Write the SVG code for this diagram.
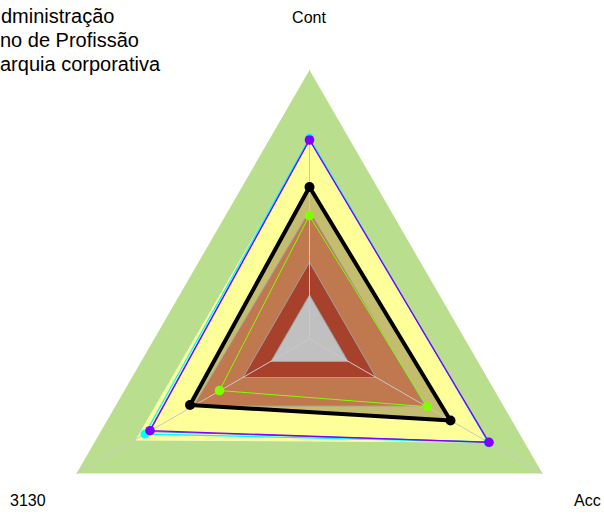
<svg xmlns="http://www.w3.org/2000/svg" width="604" height="514" viewBox="0 0 604 514">
<style>
text{font-family:"Liberation Sans",Arial,sans-serif;fill:#000}
.lab{font-size:16px}
.leg{font-size:20px}
.axis{stroke:#C8C8C8;stroke-width:1;fill:none}
.ring{stroke:#A0A0A0;stroke-width:1}
.ser{fill:none;stroke-linejoin:round}
</style>
<rect width="604" height="514" fill="#FFFFFF"/>
<g id="fills">
<polygon id="green" points="309.5,70 76.5,473.5 542.5,473.5" fill="#B9DF8E"/>
<polygon id="yellow" points="309.5,141 136,440 489,442" fill="#FFFF99" stroke="#F4FFB8" stroke-width="1"/>
<polygon id="olive" points="309.5,187 190,405 450.5,420.5" fill="#C4BC6E"/>
<polygon id="brown" class="ring" points="309.5,211 193.5,406 425.5,406" fill="#C0784E"/>
<polygon id="darkred" class="ring" points="309.5,262 243,377.5 376,377.5" fill="#A7412C"/>
<polygon id="grey" class="ring" points="309.5,295 271,361.5 348,361.5" fill="#C0C0C0"/>
</g>
<g id="axes">
<line class="axis" x1="309.5" y1="339" x2="309.5" y2="70"/>
<line class="axis" x1="309.5" y1="339" x2="76.5" y2="473.5"/>
<line class="axis" x1="309.5" y1="339" x2="542.5" y2="473.5"/>
</g>
<g id="series-cyan">
<polygon class="ser" points="309.5,138 145,434 488,442" stroke="#00FFFF" stroke-width="1.3"/>
<circle cx="309.5" cy="138" r="4.5" fill="#00FFFF"/>
<circle cx="145" cy="434" r="4.5" fill="#00FFFF"/>
<circle cx="488" cy="442" r="4.5" fill="#00FFFF"/>
</g>
<g id="series-blue">
<polygon class="ser" points="309.5,139.5 149,431.5 488.5,442" stroke="#4060FF" stroke-width="1"/>
</g>
<g id="series-purple">
<polygon class="ser" points="309.5,140 150,430.7 489,442.3" stroke="#8000FF" stroke-width="1.3"/>
<circle cx="309.5" cy="140" r="4.8" fill="#8000FF"/>
<circle cx="150" cy="430.7" r="4.8" fill="#8000FF"/>
<circle cx="489" cy="442.3" r="4.8" fill="#8000FF"/>
</g>
<g id="series-black">
<polygon class="ser" points="309.5,187 190,405 450.5,420.5" stroke="#000000" stroke-width="4"/>
<circle cx="309.5" cy="187" r="5" fill="#000"/>
<circle cx="190" cy="405" r="5" fill="#000"/>
<circle cx="450.5" cy="420.5" r="5" fill="#000"/>
</g>
<g id="series-lime">
<polygon class="ser" points="309.3,215.7 219.5,390.5 427.3,406.7" stroke="#80FF00" stroke-width="1"/>
<circle cx="309.3" cy="215.7" r="4.8" fill="#80FF00"/>
<circle cx="219.5" cy="390.5" r="4.8" fill="#80FF00"/>
<circle cx="427.3" cy="406.7" r="4.8" fill="#80FF00"/>
</g>
<g id="labels">
<text class="lab" x="309" y="23" text-anchor="middle">Cont</text>
<text class="lab" x="10" y="506">3130</text>
<text class="lab" x="574" y="506">Acc</text>
</g>
<g id="legend">
<text class="leg" x="1" y="23">dministração</text>
<text class="leg" x="0" y="47">no de Profissão</text>
<text class="leg" x="0" y="71">arquia corporativa</text>
</g>
</svg>
